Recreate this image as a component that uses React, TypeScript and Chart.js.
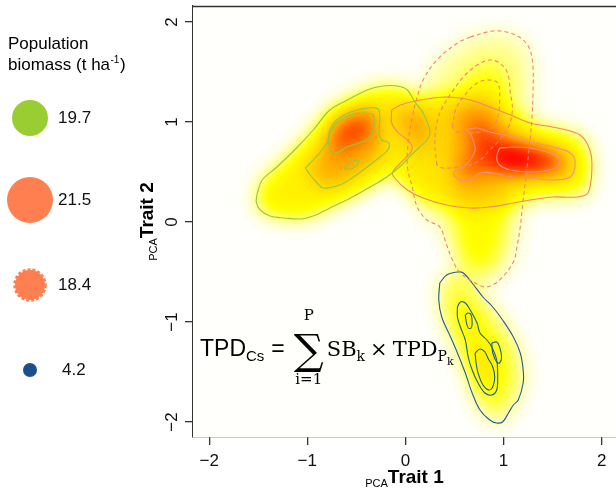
import React, { useEffect, useRef } from 'react';
import { Chart, registerables } from 'chart.js';
Chart.register(...registerables);

type P = [number, number];

// axis ticks
const xTicks = [-2, -1, 0, 1, 2];
const yTicks = [-2, -1, 0, 1, 2];
const xRange: [number, number] = [-2.165, 2.146];
const yRange: [number, number] = [-2.15, 2.16];

// ---- contours (PCA trait space) ----
const greenOuter: P[] = [[-1.51,0.29],[-1.46,0.42],[-1.31,0.55],[-1.10,0.75],[-0.94,0.92],[-0.77,1.12],[-0.59,1.22],[-0.39,1.32],[-0.23,1.36],[-0.08,1.36],[0.02,1.32],[0.09,1.21],[0.18,1.09],[0.24,0.95],[0.25,0.88],[0.21,0.81],[0.08,0.69],[-0.05,0.56],[-0.19,0.45],[-0.36,0.35],[-0.56,0.24],[-0.77,0.14],[-0.94,0.06],[-1.07,0.03],[-1.23,0.04],[-1.38,0.06],[-1.48,0.12],[-1.52,0.20]];
const greenMid: P[] = [[-1.02,0.54],[-0.94,0.62],[-0.80,0.79],[-0.77,0.92],[-0.70,1.02],[-0.56,1.10],[-0.39,1.14],[-0.28,1.13],[-0.26,1.02],[-0.27,0.89],[-0.24,0.82],[-0.17,0.79],[-0.18,0.72],[-0.26,0.65],[-0.39,0.55],[-0.53,0.45],[-0.67,0.37],[-0.84,0.34],[-0.90,0.39],[-0.97,0.47]];
const greenInner: P[] = [[-0.77,0.70],[-0.78,0.85],[-0.70,0.99],[-0.56,1.07],[-0.43,1.09],[-0.33,1.07],[-0.32,0.95],[-0.36,0.85],[-0.44,0.80],[-0.60,0.75],[-0.70,0.69],[-0.75,0.69]];
const greenSmall: P[] = [[-0.62,0.53],[-0.56,0.60],[-0.48,0.62],[-0.49,0.57],[-0.56,0.53]];

const redOuter: P[] = [[-0.14,1.12],[-0.05,1.17],[0.15,1.22],[0.42,1.25],[0.66,1.22],[0.86,1.15],[1.07,1.07],[1.27,0.99],[1.55,0.94],[1.78,0.87],[1.88,0.72],[1.90,0.52],[1.86,0.29],[1.75,0.25],[1.50,0.25],[1.27,0.22],[1.10,0.19],[0.86,0.15],[0.66,0.14],[0.42,0.17],[0.18,0.24],[0.02,0.32],[-0.11,0.44],[-0.13,0.50],[-0.05,0.59],[0.05,0.69],[0.07,0.75],[0.02,0.82],[-0.07,0.89],[-0.14,0.99]];
const redMid: P[] = [[0.61,0.92],[0.73,0.94],[0.86,0.90],[1.10,0.85],[1.27,0.80],[1.50,0.75],[1.68,0.69],[1.73,0.59],[1.68,0.45],[1.50,0.42],[1.27,0.44],[1.10,0.45],[0.89,0.49],[0.76,0.49],[0.66,0.42],[0.56,0.42],[0.49,0.49],[0.59,0.55],[0.66,0.62],[0.71,0.72],[0.69,0.82],[0.66,0.89]];
const redInner: P[] = [[0.96,0.74],[1.10,0.75],[1.27,0.74],[1.44,0.70],[1.55,0.65],[1.56,0.57],[1.47,0.52],[1.27,0.50],[1.07,0.52],[0.96,0.57],[0.93,0.65]];

const dashOuter: P[] = [[0.66,1.85],[0.89,1.91],[1.07,1.89],[1.20,1.82],[1.27,1.72],[1.30,1.55],[1.30,1.29],[1.29,1.05],[1.27,0.82],[1.24,0.55],[1.20,0.22],[1.17,-0.05],[1.14,-0.23],[1.10,-0.40],[0.96,-0.58],[0.83,-0.65],[0.73,-0.62],[0.56,-0.51],[0.48,-0.38],[0.42,-0.23],[0.35,-0.05],[0.22,0.02],[0.12,0.15],[0.07,0.35],[0.02,0.55],[0.03,0.82],[0.07,1.05],[0.12,1.25],[0.18,1.42],[0.32,1.62],[0.53,1.79]];
const dashMid: P[] = [[0.32,0.57],[0.30,0.79],[0.32,0.99],[0.38,1.15],[0.49,1.32],[0.59,1.45],[0.73,1.57],[0.86,1.62],[0.96,1.59],[1.04,1.49],[1.07,1.29],[1.09,1.12],[1.05,0.95],[0.96,0.82],[0.86,0.72],[0.76,0.62],[0.66,0.57],[0.53,0.55],[0.38,0.54]];
const dashInner: P[] = [[0.48,0.95],[0.51,1.12],[0.59,1.25],[0.73,1.39],[0.84,1.42],[0.94,1.39],[0.96,1.22],[0.94,1.05],[0.89,0.95],[0.76,0.90],[0.63,0.89],[0.53,0.90]];
const dashRidge: P[] = [[0.60,-0.45],[0.88,-0.47],[1.00,-0.10],[1.03,0.40],[0.98,1.10],[0.80,1.30],[0.57,1.10],[0.47,0.40],[0.52,-0.10]];

const blueOuter: P[] = [[0.35,-0.61],[0.42,-0.53],[0.53,-0.50],[0.59,-0.51],[0.68,-0.61],[0.79,-0.75],[0.89,-0.85],[0.99,-0.98],[1.10,-1.15],[1.17,-1.31],[1.20,-1.48],[1.20,-1.61],[1.15,-1.78],[1.10,-1.83],[1.05,-1.91],[0.99,-2.00],[0.93,-2.01],[0.86,-1.98],[0.76,-1.88],[0.68,-1.71],[0.61,-1.51],[0.53,-1.31],[0.46,-1.15],[0.37,-0.95],[0.34,-0.78]];
const blueMid: P[] = [[0.53,-0.85],[0.56,-0.80],[0.61,-0.81],[0.66,-0.88],[0.73,-1.01],[0.76,-1.11],[0.83,-1.18],[0.88,-1.25],[0.93,-1.38],[0.94,-1.55],[0.93,-1.68],[0.88,-1.73],[0.81,-1.71],[0.74,-1.61],[0.68,-1.48],[0.64,-1.35],[0.61,-1.18],[0.56,-1.05],[0.53,-0.95]];
const blueInnerA: P[] = [[0.61,-0.93],[0.64,-0.91],[0.67,-0.93],[0.68,-1.01],[0.67,-1.06],[0.64,-1.06],[0.62,-1.00]];
const blueInnerB: P[] = [[0.71,-1.31],[0.76,-1.27],[0.81,-1.30],[0.84,-1.36],[0.89,-1.45],[0.91,-1.55],[0.89,-1.65],[0.85,-1.68],[0.79,-1.63],[0.74,-1.51],[0.72,-1.41]];
const blueInnerC: P[] = [[0.88,-1.21],[0.93,-1.20],[0.96,-1.25],[0.98,-1.35],[0.96,-1.41],[0.93,-1.40],[0.89,-1.31]];

// density increments (relative trait probability density) per region
const greenDensity = [0.2, 0.2, 0.22, 0.08];
const redDensity = [0.17, 0.25, 0.32];
const dashDensity = [0.07, 0.1, 0.07, 0.05];
const blueDensity = [0.12, 0.09, 0.04, 0.05, 0.03];

// legend
const legendTitle = ['Population', 'biomass (t ha', '-1', ')'];
const legendValues = ['19.7', '21.5', '18.4', '4.2'];
const legendColors = ['#9ACD32', '#FF7F50', '#FF7F50', '#1B4F8A'];
const legendRadii = [18, 23, 16, 7];
const legendDashed = [false, false, true, false];

const GREEN = '#93C83E';
const RED = '#F4846C';
const BLUE = '#1F5B9E';

const SANS = '"Liberation Sans", Arial, Helvetica, sans-serif';
const SERIF = '"DejaVu Serif", "Liberation Serif", serif';

const heatLayers: [P[], number][] = [
  [greenOuter, greenDensity[0]], [greenMid, greenDensity[1]], [greenInner, greenDensity[2]], [greenSmall, greenDensity[3]],
  [redOuter, redDensity[0]], [redMid, redDensity[1]], [redInner, redDensity[2]],
  [dashOuter, dashDensity[0]], [dashRidge, dashDensity[1]], [dashMid, dashDensity[2]], [dashInner, dashDensity[3]],
  [blueOuter, blueDensity[0]], [blueMid, blueDensity[1]], [blueInnerA, blueDensity[2]], [blueInnerB, blueDensity[3]], [blueInnerC, blueDensity[4]],
];

const rampStops = [0, 0.05, 0.16, 0.32, 0.46, 0.6, 0.74];
const rampColors = [[255,255,252],[255,255,185],[255,255,0],[255,205,0],[255,145,0],[255,70,0],[255,0,0]];

function ramp(v: number): number[] {
  if (v <= 0) return rampColors[0];
  for (let i = 1; i < rampStops.length; i++) {
    if (v <= rampStops[i]) {
      const t = (v - rampStops[i - 1]) / (rampStops[i] - rampStops[i - 1]);
      const a = rampColors[i - 1], b = rampColors[i];
      return [a[0] + (b[0] - a[0]) * t, a[1] + (b[1] - a[1]) * t, a[2] + (b[2] - a[2]) * t];
    }
  }
  return rampColors[rampColors.length - 1];
}

const toXY = (pts: P[]) => {
  const d = pts.map(([x, y]) => ({ x, y }));
  d.push({ ...d[0] });
  return d;
};

const lineDs = (pts: P[], color: string, dash: number[] = []) => ({
  data: toXY(pts),
  borderColor: color,
  borderWidth: 1.1,
  borderDash: dash,
  pointRadius: 0,
  tension: 0.35,
  fill: false,
  showLine: true,
});

const heatPlugin = {
  id: 'heat',
  beforeDatasetsDraw(chart: any) {
    const { ctx, chartArea: a, scales } = chart;
    const xs = scales.x, ys = scales.y;
    const w = Math.round(a.right - a.left), h = Math.round(a.bottom - a.top);
    const off = document.createElement('canvas');
    off.width = w; off.height = h;
    const o = off.getContext('2d')!;
    o.globalCompositeOperation = 'lighter';
    o.filter = 'blur(10px)';
    for (const [pts, lvl] of heatLayers) {
      o.fillStyle = `rgba(255,255,255,${lvl})`;
      o.beginPath();
      pts.forEach(([x, y], i) => {
        const px = xs.getPixelForValue(x) - a.left;
        const py = ys.getPixelForValue(y) - a.top;
        if (i === 0) o.moveTo(px, py); else o.lineTo(px, py);
      });
      o.closePath();
      o.fill();
    }
    const img = o.getImageData(0, 0, w, h);
    const d = img.data;
    for (let i = 0; i < d.length; i += 4) {
      const c = ramp(d[i + 3] / 255);
      d[i] = c[0]; d[i + 1] = c[1]; d[i + 2] = c[2]; d[i + 3] = 255;
    }
    o.putImageData(img, 0, 0);
    ctx.save();
    ctx.drawImage(off, a.left, a.top);
    ctx.restore();
  },
};

const decoPlugin = {
  id: 'deco',
  afterDraw(chart: any) {
    const { ctx, chartArea: a, scales } = chart;
    ctx.save();
    // top border
    ctx.strokeStyle = '#333';
    ctx.lineWidth = 1.3;
    ctx.beginPath();
    ctx.moveTo(a.left, a.top + 0.5);
    ctx.lineTo(a.right, a.top + 0.5);
    ctx.stroke();

    // y tick labels, rotated
    ctx.fillStyle = '#111';
    ctx.font = `17px ${SANS}`;
    ctx.textAlign = 'center';
    ctx.textBaseline = 'alphabetic';
    for (const v of yTicks) {
      const y = scales.y.getPixelForValue(v);
      ctx.save();
      ctx.translate(177, y);
      ctx.rotate(-Math.PI / 2);
      ctx.fillText(v < 0 ? '\u2212' + Math.abs(v) : String(v), 0, 0);
      ctx.restore();
    }

    // axis titles
    const drawTitle = (name: string) => {
      ctx.font = `11px ${SANS}`;
      const w1 = ctx.measureText('PCA').width;
      ctx.font = `bold 19px ${SANS}`;
      const w2 = ctx.measureText(name).width;
      const start = -(w1 + w2) / 2;
      ctx.textAlign = 'left';
      ctx.font = `11px ${SANS}`;
      ctx.fillText('PCA', start, 4);
      ctx.font = `bold 19px ${SANS}`;
      ctx.fillText(name, start + w1, 0);
    };
    ctx.fillStyle = '#000';
    ctx.save();
    ctx.translate((a.left + a.right) / 2, 483);
    drawTitle('Trait 1');
    ctx.restore();
    ctx.save();
    ctx.translate(153, (a.top + a.bottom) / 2);
    ctx.rotate(-Math.PI / 2);
    drawTitle('Trait 2');
    ctx.restore();

    // legend
    ctx.textAlign = 'left';
    ctx.font = `17px ${SANS}`;
    ctx.fillText(legendTitle[0], 8, 49);
    ctx.fillText(legendTitle[1], 8, 70);
    let lx = 8 + ctx.measureText(legendTitle[1]).width;
    ctx.font = `10px ${SANS}`;
    ctx.fillText(legendTitle[2], lx + 0.5, 63);
    lx += ctx.measureText(legendTitle[2]).width + 1;
    ctx.font = `17px ${SANS}`;
    ctx.fillText(legendTitle[3], lx, 70);
    const legendY = [118, 200, 285, 370];
    legendValues.forEach((val, i) => {
      const cy = legendY[i];
      ctx.fillStyle = legendColors[i];
      ctx.beginPath();
      ctx.arc(30, cy, legendDashed[i] ? legendRadii[i] - 1 : legendRadii[i], 0, Math.PI * 2);
      ctx.fill();
      if (legendDashed[i]) {
        ctx.strokeStyle = legendColors[i];
        ctx.lineWidth = 2.5;
        ctx.setLineDash([3, 2]);
        ctx.beginPath();
        ctx.arc(30, cy, legendRadii[i] - 0.5, 0, Math.PI * 2);
        ctx.stroke();
        ctx.setLineDash([]);
      }
      ctx.fillStyle = '#111';
      ctx.font = `17px ${SANS}`;
      ctx.textBaseline = 'middle';
      ctx.fillText(val, i === 3 ? 62 : 58, cy);
      ctx.textBaseline = 'alphabetic';
    });

    // formula
    ctx.fillStyle = '#000';
    let fx = 200;
    const base = 356;
    const put = (t: string, font: string, dy = 0, gap = 0) => {
      ctx.font = font;
      ctx.fillText(t, fx, base + dy);
      fx += ctx.measureText(t).width + gap;
    };
    put('TPD', `23px ${SANS}`);
    put('Cs', `15px ${SANS}`, 5, 7);
    put('=', `23px ${SANS}`, 0, 9);
    // sigma
    ctx.font = `42px ${SERIF}`;
    const sw = ctx.measureText('\u2211').width;
    const scx = fx + sw / 2;
    ctx.fillText('\u2211', fx, base + 8);
    ctx.textAlign = 'center';
    ctx.font = `15px ${SERIF}`;
    ctx.fillText('P', scx, 320);
    ctx.fillText('i=1', scx, 384);
    ctx.textAlign = 'left';
    fx += sw + 3;
    put('SB', `21px ${SERIF}`);
    put('k', `14px ${SERIF}`, 5, 5);
    put('\u00D7', `21px ${SERIF}`, 0, 5);
    put('TPD', `21px ${SERIF}`);
    put('P', `14px ${SERIF}`, 5);
    put('k', `11px ${SERIF}`, 9);
    ctx.restore();
  },
};

export default function App() {
  const ref = useRef<HTMLCanvasElement>(null);
  useEffect(() => {
    const fmt = (v: any) => (Number(v) < 0 ? '\u2212' + Math.abs(Number(v)) : String(v));
    const chart = new Chart(ref.current!, {
      type: 'scatter',
      data: {
        datasets: [
          lineDs(greenOuter, GREEN), lineDs(greenMid, GREEN), lineDs(greenInner, GREEN), lineDs(greenSmall, GREEN),
          lineDs(dashOuter, RED, [4, 3]), lineDs(dashMid, RED, [4, 3]), lineDs(dashInner, RED, [4, 3]),
          lineDs(redOuter, RED), lineDs(redMid, '#F59080'), lineDs(redInner, '#F59080'),
          lineDs(blueOuter, BLUE), lineDs(blueMid, BLUE), lineDs(blueInnerA, BLUE), lineDs(blueInnerB, BLUE), lineDs(blueInnerC, BLUE),
        ] as any,
      },
      options: {
        animation: false,
        responsive: true,
        maintainAspectRatio: false,
        events: [],
        layout: { padding: { top: 6, right: 0, left: 0, bottom: 0 } },
        plugins: { legend: { display: false }, tooltip: { enabled: false } },
        scales: {
          x: {
            type: 'linear',
            min: xRange[0],
            max: xRange[1],
            afterBuildTicks: (s: any) => { s.ticks = xTicks.map((v) => ({ value: v })); },
            afterFit: (s: any) => { s.height = 51; },
            ticks: { callback: fmt, autoSkip: false, color: '#111', font: { family: SANS, size: 17 }, padding: 6, maxRotation: 0 },
            grid: { display: true, drawOnChartArea: false, drawTicks: true, tickLength: 8, color: '#333', lineWidth: 1.3 },
            border: { display: true, color: '#333', width: 1.3 },
          },
          y: {
            type: 'linear',
            min: yRange[0],
            max: yRange[1],
            afterBuildTicks: (s: any) => { s.ticks = yTicks.map((v) => ({ value: v })); },
            afterFit: (s: any) => { s.width = 193; },
            ticks: { display: false },
            grid: { display: true, drawOnChartArea: false, drawTicks: true, tickLength: 8, color: '#333', lineWidth: 1.3 },
            border: { display: true, color: '#333', width: 1.3 },
          },
        },
      } as any,
      plugins: [heatPlugin, decoPlugin],
    });
    return () => chart.destroy();
  }, []);
  return (
    <div style={{ position: 'absolute', left: 0, top: 0, width: 616, height: 488, background: '#fff' }}>
      <canvas ref={ref} />
    </div>
  );
}
